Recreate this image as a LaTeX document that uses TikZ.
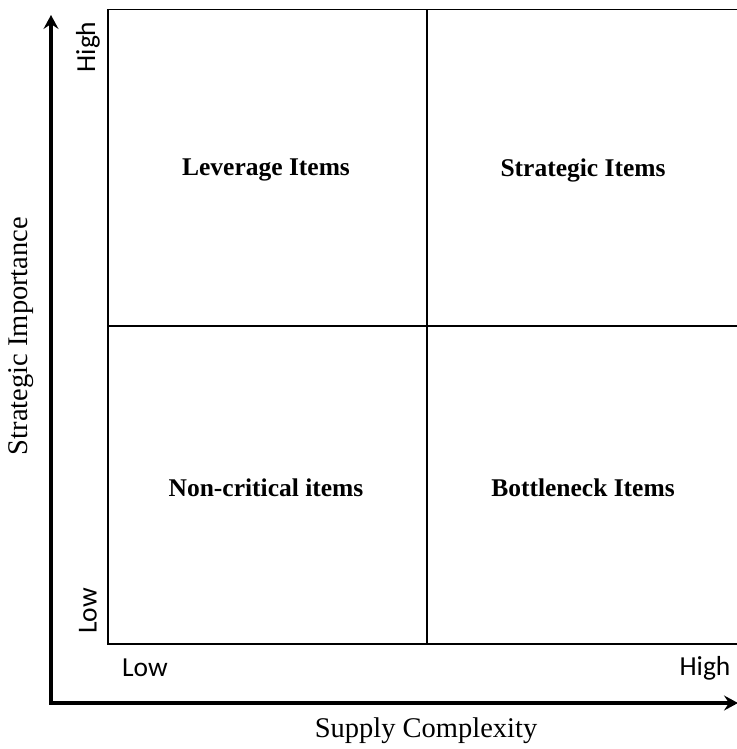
\documentclass[tikz,border=0pt]{standalone}
\usepackage{fontspec}
\setmainfont{Liberation Serif}
\newfontfamily\calib{Carlito}
\usetikzlibrary{arrows.meta}
\tikzset{quad/.style={font=\bfseries\fontsize{25.5}{28}\selectfont},
	level label/.style={font=\calib\fontsize{27.5}{30}\selectfont},
	axis title/.style={font=\fontsize{28.5}{32}\selectfont},
	axis/.style={line width=3.4pt,-{Stealth[length=14pt,width=15pt,inset=5pt]}},
	grid line/.style={line width=1.9pt}}
\begin{document}
\begin{tikzpicture}[x=1pt,y=-1pt]
\useasboundingbox (0,0) rectangle (736,749);
% the 2x2 matrix
\draw[grid line] (740,9.5) -- (108,9.5) -- (108,644) -- (740,644);
\draw[grid line] (427,9.5) -- (427,644);
\draw[grid line] (108,326) -- (740,326);
% axes
\coordinate (o) at (51,703);
\coordinate (ytop) at (51,15);
\coordinate (xend) at (738,703);
\draw[axis] ([yshift=-1.7pt]o) -- (ytop);
\draw[axis] ([xshift=-1.7pt]o) -- (xend);
% quadrants
\node[quad] (lev) at (266,170) {Leverage Items};
\node[quad] (str) at (583,170) {Strategic Items};
\node[quad] (non) at (266,488) {Non-critical items};
\node[quad] (bot) at (583,488) {Bottleneck Items};
% low / high marks
\node[level label,rotate=90] (yhigh) at (88,47) {High};
\node[level label,rotate=90] (ylow) at (88,611) {Low};
\node[level label] (xlow) at (145,668) {Low};
\node[level label] (xhigh) at (705,668) {High};
% axis titles
\node[axis title,rotate=90] (ytitle) at (21,336) {Strategic Importance};
\node[axis title] (xtitle) at (426,731) {Supply Complexity};
\end{tikzpicture}
\end{document}
